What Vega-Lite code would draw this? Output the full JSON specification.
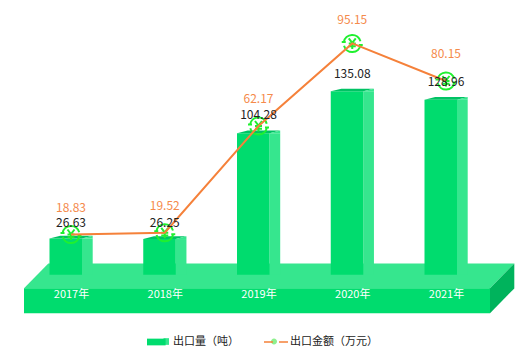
{
"$schema":"https://vega.github.io/schema/vega-lite/v6.json",
"width":530,"height":355,"padding":0,"autosize":"none",
"background":"white",
"config":{"view":{"stroke":null},"font":"Noto Sans CJK SC"},
"data":{"values":[
{"year":"2017年","amount":26.63,"value":18.83},
{"year":"2018年","amount":26.25,"value":19.52},
{"year":"2019年","amount":104.28,"value":62.17},
{"year":"2020年","amount":135.08,"value":95.15},
{"year":"2021年","amount":128.96,"value":80.15}]},
"encoding":{"x":{"field":"year","type":"nominal","title":null,
"scale":{"type":"point","padding":0,"domain":["2017年","2018年","2019年","2020年","2021年"],"range":[71,446]},
"axis":{"orient":"bottom","offset":-61,"ticks":false,"domain":false,"grid":false,"labelAngle":0,"labelPadding":0,"labelBaseline":"middle","labelColor":"#ffffff","labelFontSize":11,"labelFont":"Noto Sans CJK SC","zindex":1,"labelOverlap":false}}},
"layer":[
{"data":{"values":[{"part":"平台"}]},"mark":{"type":"point","filled":true,"opacity":1,"size":4,"color":"#36e68e","shape":"M-234.5,13.5L231.5,13.5L255.8,-11.2L-210.2,-11.2Z"},
"encoding":{"x":{"datum":"2019年"},"y":{"datum":0,"type":"quantitative","scale":{"domain":[-59.2,202.4],"range":[355,0]},"axis":null}}},
{"data":{"values":[{"part":"平台"}]},"mark":{"type":"point","filled":true,"opacity":1,"size":4,"color":"#00dc6e","shape":"M-234.5,13.5L231.5,13.5L231.5,38.5L-234.5,38.5Z"},
"encoding":{"x":{"datum":"2019年"},"y":{"datum":0,"type":"quantitative","scale":{"domain":[-59.2,202.4],"range":[355,0]},"axis":null}}},
{"data":{"values":[{"part":"平台"}]},"mark":{"type":"point","filled":true,"opacity":1,"size":4,"color":"#00b35c","shape":"M231.5,13.5L255.8,-11.2L255.8,13.8L231.5,38.5Z"},
"encoding":{"x":{"datum":"2019年"},"y":{"datum":0,"type":"quantitative","scale":{"domain":[-59.2,202.4],"range":[355,0]},"axis":null}}},
{"mark":{"type":"bar","size":10.7,"xOffset":16.35,"color":"#36e68e"},
"encoding":{"y":{"field":"amount","type":"quantitative","stack":null,"scale":{"domain":[-59.2,202.4],"range":[355,0]},"axis":null}}},
{"mark":{"type":"bar","size":32.5,"xOffset":-5.25},
"encoding":{"y":{"field":"amount","type":"quantitative","stack":null,"scale":{"domain":[-59.2,202.4],"range":[355,0]},"axis":null},
"fill":{"datum":"出口量（吨）","type":"nominal","scale":{"domain":["出口量（吨）"],"range":["#00dc6e"]},
"legend":{"title":null,"orient":"none","legendX":146,"legendY":329,"symbolType":"M-1,-0.28H0.55V0.28H-1Z","symbolSize":576,"labelOffset":1,"labelFontSize":11,"labelColor":"#222222","labelFont":"Noto Sans CJK SC","labelLimit":200}}}},
{"mark":{"type":"point","filled":true,"opacity":1,"size":4,"color":"#00c364","shape":"M-21.5,0L11,0L21.7,-2.7L-10.8,-2.7Z"},
"encoding":{"y":{"field":"amount","type":"quantitative","stack":null,"scale":{"domain":[-59.2,202.4],"range":[355,0]},"axis":null}}},
{"mark":{"type":"point","filled":true,"opacity":1,"size":4,"color":"#36e68e","shape":"M11,0L21.7,-2.7L21.7,0Z"},
"encoding":{"y":{"field":"amount","type":"quantitative","stack":null,"scale":{"domain":[-59.2,202.4],"range":[355,0]},"axis":null}}},
{"mark":{"type":"point","filled":false,"opacity":1,"size":4,"color":"#1ff02f","strokeWidth":2,"shape":"M-8.4,-1.5A8.5,8.5 0 0 1 8.2,-2.2M8.4,1.5A8.5,8.5 0 0 1 -8.2,2.2M-10.5,-1.5L-6.5,-1.5M6.5,1.5L10.5,1.5M-3.5,-5L0,-0.5L3.5,-5M0,-0.5L0,5.5M-3.5,0L3.5,0M-3.5,2.7L3.5,2.7"},
"encoding":{"y":{"field":"value","type":"quantitative","scale":{"domain":[-29.3,112.5],"range":[355,0]},"axis":null}}},
{"mark":{"type":"line","strokeWidth":2,"interpolate":"linear"},
"encoding":{"y":{"field":"value","type":"quantitative","scale":{"domain":[-29.3,112.5],"range":[355,0]},"axis":null},
"stroke":{"datum":"出口金额（万元）","type":"nominal","scale":{"domain":["出口金额（万元）"],"range":["#f5813a"]},
"legend":{"title":null,"orient":"none","legendX":263,"legendY":329,"symbolType":"M-1,0H-0.25M0.25,0H1","symbolSize":576,"symbolStrokeWidth":1.6,"labelOffset":1,"labelFontSize":11,"labelColor":"#222222","labelFont":"Noto Sans CJK SC","labelLimit":200}}}},
{"transform":[{"filter":"datum.amount<50"}],"mark":{"type":"text","dy":-15.8,"fontSize":12,"color":"#222222","baseline":"middle"},
"encoding":{"y":{"field":"amount","type":"quantitative","stack":null,"scale":{"domain":[-59.2,202.4],"range":[355,0]},"axis":null},"text":{"field":"amount","type":"quantitative","format":".2f"}}},
{"transform":[{"filter":"datum.amount>=50"}],"mark":{"type":"text","dy":-17.8,"fontSize":12,"color":"#222222","baseline":"middle"},
"encoding":{"y":{"field":"amount","type":"quantitative","stack":null,"scale":{"domain":[-59.2,202.4],"range":[355,0]},"axis":null},"text":{"field":"amount","type":"quantitative","format":".2f"}}},
{"transform":[{"filter":"datum.value<90"}],"mark":{"type":"text","dy":-27,"fontSize":12,"color":"#f58a4b","baseline":"middle"},
"encoding":{"y":{"field":"value","type":"quantitative","scale":{"domain":[-29.3,112.5],"range":[355,0]},"axis":null},"text":{"field":"value","type":"quantitative","format":".2f"}}},
{"transform":[{"filter":"datum.value>=90"}],"mark":{"type":"text","dy":-23,"fontSize":12,"color":"#f58a4b","baseline":"middle"},
"encoding":{"y":{"field":"value","type":"quantitative","scale":{"domain":[-29.3,112.5],"range":[355,0]},"axis":null},"text":{"field":"value","type":"quantitative","format":".2f"}}},
{"data":{"values":[{"part":"图例"}]},"mark":{"type":"point","filled":true,"opacity":1,"size":4,"color":"#36e68e","shape":"M-95,63.5L-89.5,63.5L-89.5,70.2L-95,70.2Z"},
"encoding":{"x":{"datum":"2019年"},"y":{"datum":0,"type":"quantitative","scale":{"domain":[-59.2,202.4],"range":[355,0]},"axis":null}}},
{"data":{"values":[{"part":"图例"}]},"mark":{"type":"point","filled":true,"opacity":1,"size":4,"color":"#8ef08e","shape":"M12.5,66.8A3,3 0 1 0 18.5,66.8A3,3 0 1 0 12.5,66.8Z"},
"encoding":{"x":{"datum":"2019年"},"y":{"datum":0,"type":"quantitative","scale":{"domain":[-59.2,202.4],"range":[355,0]},"axis":null}}}
],
"resolve":{"scale":{"y":"independent"}}
}
